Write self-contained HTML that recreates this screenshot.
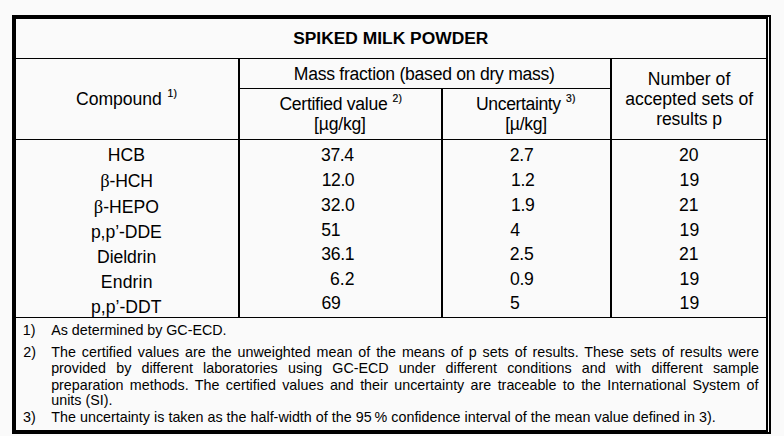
<!DOCTYPE html>
<html><head><meta charset="utf-8"><title>Spiked milk powder</title>
<style>
html,body{margin:0;padding:0;background:#fafafa;}
body{width:784px;height:436px;background:#fafafa;position:relative;overflow:hidden;
 font-family:"Liberation Sans",sans-serif;color:#000;}
.l{position:absolute;background:#000;}
.t{position:absolute;white-space:nowrap;line-height:20px;height:20px;}
.s{font-size:10.4px;position:relative;letter-spacing:0.2px;-webkit-text-stroke:0.2px #000;}
.b{font-family:"Liberation Serif",serif;font-size:1.05em;}
</style></head>
<body>
<div class="l" style="left:12px;top:15px;width:759px;height:4px"></div><div class="l" style="left:12px;top:430px;width:759px;height:4px"></div><div class="l" style="left:12px;top:15px;width:4px;height:419px"></div><div class="l" style="left:766px;top:15px;width:5px;height:419px"></div><div class="l" style="left:16px;top:58px;width:750px;height:1px"></div><div class="l" style="left:239px;top:88px;width:372px;height:1px"></div><div class="l" style="left:16px;top:139px;width:750px;height:1px"></div><div class="l" style="left:16px;top:317px;width:750px;height:1px"></div><div class="l" style="left:238px;top:59px;width:2px;height:258px"></div><div class="l" style="left:441px;top:88px;width:2px;height:229px"></div><div class="l" style="left:610px;top:59px;width:2px;height:258px"></div><div class="l" style="left:768px;top:17px;width:1px;height:415px;background:#fafafa"></div>
<div class="t" id="title" style="left:293.13px;top:28.00px;font-size:17.4px;font-weight:bold;letter-spacing:0.006px;">SPIKED MILK POWDER</div>
<div class="t" id="mass" style="left:293.80px;top:64.00px;font-size:17.6px;letter-spacing:-0.272px;">Mass fraction (based on dry mass)</div>
<div class="t" id="comp" style="left:76.10px;top:89.00px;font-size:17.6px;letter-spacing:-0.070px;"><span id='comp_m'>Compound</span><span class="s" id="sup1" style="left:5.97px;top:-8.25px">1)</span></div>
<div class="t" id="cert" style="left:279.47px;top:94.00px;font-size:17.6px;letter-spacing:-0.303px;"><span id='cert_m'>Certified value</span><span class="s" id="sup2" style="left:5.12px;top:-8.12px">2)</span></div>
<div class="t" id="ug" style="left:314.03px;top:114.00px;font-size:17.6px;letter-spacing:-0.205px;">[µg/kg]</div>
<div class="t" id="unc" style="left:476.06px;top:94.00px;font-size:17.6px;letter-spacing:-0.389px;"><span id='unc_m'>Uncertainty</span><span class="s" id="sup3" style="left:5.28px;top:-7.81px">3)</span></div>
<div class="t" id="uk" style="left:505.28px;top:114.00px;font-size:17.6px;letter-spacing:-0.296px;">[µ/kg]</div>
<div class="t" id="num1" style="left:647.87px;top:69.00px;font-size:17.6px;letter-spacing:0.040px;">Number of</div>
<div class="t" id="num2" style="left:625.14px;top:89.00px;font-size:17.6px;letter-spacing:-0.002px;">accepted sets of</div>
<div class="t" id="num3" style="left:656.13px;top:109.00px;font-size:17.6px;letter-spacing:-0.072px;">results p</div>
<div class="t" id="n0" style="left:107.86px;top:145.00px;font-size:17.6px;letter-spacing:-0.014px;">HCB</div>
<div class="t" id="n1" style="left:100.13px;top:171.00px;font-size:17.6px;letter-spacing:-0.118px;"><span class="b">β</span>-HCH</div>
<div class="t" id="n2" style="left:93.76px;top:197.00px;font-size:17.6px;letter-spacing:0.024px;"><span class="b">β</span>-HEPO</div>
<div class="t" id="n3" style="left:90.88px;top:222.00px;font-size:17.6px;letter-spacing:-0.066px;">p,p’-DDE</div>
<div class="t" id="n4" style="left:97.12px;top:247.00px;font-size:17.6px;letter-spacing:-0.082px;">Dieldrin</div>
<div class="t" id="n5" style="left:100.87px;top:272.00px;font-size:17.6px;letter-spacing:0.141px;">Endrin</div>
<div class="t" id="n6" style="left:90.88px;top:297.00px;font-size:17.6px;letter-spacing:0.048px;">p,p’-DDT</div>
<div class="t" id="c0" style="left:321.09px;top:145.00px;font-size:17.6px;letter-spacing:-0.387px;">37.4</div>
<div class="t" id="c1" style="left:321.74px;top:170.00px;font-size:17.6px;letter-spacing:-0.441px;">12.0</div>
<div class="t" id="c2" style="left:321.09px;top:195.00px;font-size:17.6px;letter-spacing:-0.217px;">32.0</div>
<div class="t" id="c3" style="left:321.37px;top:220.00px;font-size:17.6px;letter-spacing:-0.320px;">51</div>
<div class="t" id="c4" style="left:321.23px;top:244.00px;font-size:17.6px;letter-spacing:-0.320px;">36.1</div>
<div class="t" id="c5" style="left:330.06px;top:269.00px;font-size:17.6px;letter-spacing:-0.038px;">6.2</div>
<div class="t" id="c6" style="left:321.55px;top:293.00px;font-size:17.6px;letter-spacing:-0.320px;">69</div>
<div class="t" id="u0" style="left:509.85px;top:145.00px;font-size:17.6px;letter-spacing:-0.320px;">2.7</div>
<div class="t" id="u1" style="left:510.95px;top:170.00px;font-size:17.6px;letter-spacing:-0.320px;">1.2</div>
<div class="t" id="u2" style="left:510.95px;top:195.00px;font-size:17.6px;letter-spacing:-0.320px;">1.9</div>
<div class="t" id="u3" style="left:510.27px;top:220.00px;font-size:17.6px;letter-spacing:-0.320px;">4</div>
<div class="t" id="u4" style="left:509.85px;top:244.00px;font-size:17.6px;letter-spacing:-0.320px;">2.5</div>
<div class="t" id="u5" style="left:510.01px;top:269.00px;font-size:17.6px;letter-spacing:-0.320px;">0.9</div>
<div class="t" id="u6" style="left:510.01px;top:293.00px;font-size:17.6px;letter-spacing:-0.320px;">5</div>
<div class="t" id="p0" style="left:679.08px;top:145.00px;font-size:17.6px;">20</div>
<div class="t" id="p1" style="left:679.62px;top:170.00px;font-size:17.6px;">19</div>
<div class="t" id="p2" style="left:679.08px;top:195.00px;font-size:17.6px;">21</div>
<div class="t" id="p3" style="left:679.62px;top:220.00px;font-size:17.6px;">19</div>
<div class="t" id="p4" style="left:679.08px;top:244.00px;font-size:17.6px;">21</div>
<div class="t" id="p5" style="left:679.62px;top:269.00px;font-size:17.6px;">19</div>
<div class="t" id="p6" style="left:679.62px;top:293.00px;font-size:17.6px;">19</div>
<div class="t" id="f1n" style="left:22.82px;top:320.00px;font-size:14.3px;">1)</div>
<div class="t" id="f1l0" style="left:51.27px;top:320.00px;font-size:14.3px;word-spacing:-0.101px;">As determined by GC-ECD.</div>
<div class="t" id="f2n" style="left:23.35px;top:342.00px;font-size:14.3px;">2)</div>
<div class="t" id="f2l0" style="left:51.30px;top:342.00px;font-size:14.3px;word-spacing:1.961px;">The certified values are the unweighted mean of the means of p sets of results. These sets of results were</div>
<div class="t" id="f2l1" style="left:51.17px;top:358.00px;font-size:14.3px;word-spacing:6.209px;">provided by different laboratories using GC-ECD under different conditions and with different sample</div>
<div class="t" id="f2l2" style="left:51.17px;top:375.00px;font-size:14.3px;word-spacing:2.398px;">preparation methods. The certified values and their uncertainty are traceable to the International System of</div>
<div class="t" id="f2l3" style="left:51.26px;top:390.00px;font-size:14.3px;">units (SI).</div>
<div class="t" id="f3n" style="left:23.08px;top:407.00px;font-size:14.3px;">3)</div>
<div class="t" id="f3l0" style="left:51.30px;top:407.00px;font-size:14.3px;word-spacing:0.099px;">The uncertainty is taken as the half-width of the 95<span style='margin-left:-1.2px'> </span>% confidence interval of the mean value defined in 3).</div>
</body></html>
